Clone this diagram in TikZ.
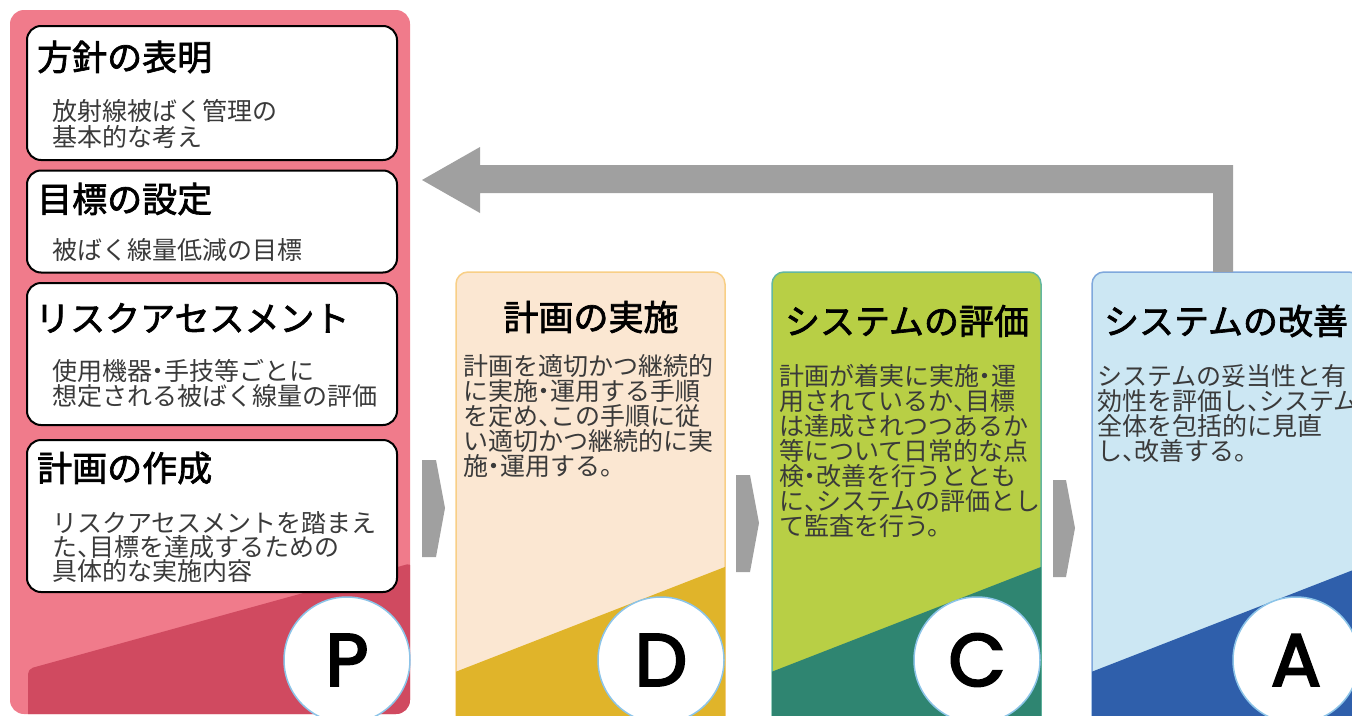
\documentclass[tikz,border=0pt]{standalone}
\usepackage{fontspec}
\newfontfamily\jp{Noto Sans CJK JP}
\newfontfamily\jph[FakeBold=2]{Noto Sans CJK JP}
\newfontfamily\lat[FakeBold=3]{Poppins}
\definecolor{pfill}{HTML}{F07B8B}
\definecolor{pdark}{HTML}{D04A60}
\definecolor{dfill}{HTML}{FBE7D2}
\definecolor{dline}{HTML}{F8CF86}
\definecolor{ddark}{HTML}{E0B42A}
\definecolor{cfill}{HTML}{B8CF45}
\definecolor{cline}{HTML}{63B7A0}
\definecolor{cdark}{HTML}{2F8571}
\definecolor{afill}{HTML}{CCE7F3}
\definecolor{aline}{HTML}{7FA8DC}
\definecolor{adark}{HTML}{2F5FAB}
\definecolor{flow}{HTML}{A0A0A0}
\definecolor{body}{HTML}{3A3A3A}
\definecolor{ring}{HTML}{8CC4E8}
\newcommand\Jc{\makebox[.5em][l]{、}}
\newcommand\Jd{\makebox[.5em][c]{・}}
\begin{document}
\begin{tikzpicture}[x=1pt,y=-1pt,
  pbox/.style={draw=black, line width=2pt, fill=white, rounded corners=14pt, inner sep=0pt},
  head/.style={font=\jph\fontsize{35}{40}\selectfont, text=black, inner sep=0pt},
  sub/.style={font=\jp\fontsize{25}{25}\selectfont, text=body, inner sep=0pt, anchor=west},
  badge/.style={circle, fill=white, draw=ring, line width=1.5pt, minimum size=126pt, inner sep=0pt,
    font=\lat\fontsize{74}{74}\selectfont, text=black},
  chev/.style={fill=flow}
]
\useasboundingbox (0,0) rectangle (1352,715);
\fill[white] (0,0) rectangle (1352,715);

% ---------- P panel ----------
\fill[pfill, rounded corners=14pt] (10,10) rectangle (410,714);
\begin{scope}
  \clip[rounded corners=14pt] (10,10) rectangle (410,714);
  \fill[pdark, rounded corners=5pt] (28,669) -- (412,563) -- (412,720) -- (28,720) -- cycle;
\end{scope}

\node[pbox, minimum width=370pt, minimum height=134pt] (b1) at (212,93) {};
\node[pbox, minimum width=370pt, minimum height=102pt] (b2) at (212,221.5) {};
\node[pbox, minimum width=370pt, minimum height=142pt] (b3) at (212,354) {};
\node[pbox, minimum width=370pt, minimum height=152pt] (b4) at (212,516) {};

\node[head, anchor=west] (h1) at (37,57) {方針の表明};
\node[head, anchor=west] (h2) at (37,199) {目標の設定};
\node[head, anchor=west] (h3) at (35,318) {リスクアセスメント};
\node[head, anchor=west] (h4) at (37,468) {計画の作成};

\node[sub] (s1a) at (52,111) {放射線被ばく管理の};
\node[sub] (s1b) at (52,137) {基本的な考え};
\node[sub] (s2a) at (52,250) {被ばく線量低減の目標};
\node[sub] (s3a) at (52,371) {使用機器\Jd 手技等ごとに};
\node[sub] (s3b) at (52,396) {想定される被ばく線量の評価};
\node[sub] (s4a) at (52,523) {リスクアセスメントを踏まえ};
\node[sub] (s4b) at (52,547) {た\Jc 目標を達成するための};
\node[sub] (s4c) at (52,571) {具体的な実施内容};

\node[badge] (P) at (347,660) {P};

% ---------- D panel ----------
\filldraw[fill=dfill, draw=dline, line width=1.5pt, rounded corners=12pt] (456,272) rectangle (725,740);
\begin{scope}
  \clip[rounded corners=12pt] (456,272) rectangle (725,740);
  \fill[ddark] (450,674) -- (730,565) -- (730,740) -- (450,740) -- cycle;
\end{scope}
\node[head] (hd) at (591,317) {計画の実施};
\node[sub] (d1) at (463,366) {計画を適切かつ継続的};
\node[sub] (d2) at (463,391) {に実施\Jd 運用する手順};
\node[sub] (d3) at (463,416) {を定め\Jc この手順に従};
\node[sub] (d4) at (463,441) {い適切かつ継続的に実};
\node[sub] (d5) at (463,466) {施\Jd 運用する。};
\node[badge] (D) at (661,660) {D};

% ---------- C panel ----------
\filldraw[fill=cfill, draw=cline, line width=1.5pt, rounded corners=12pt] (772,272) rectangle (1041,740);
\begin{scope}
  \clip[rounded corners=12pt] (772,272) rectangle (1041,740);
  \fill[cdark] (766,674) -- (1046,565) -- (1046,740) -- (766,740) -- cycle;
\end{scope}
\node[head] (hc) at (907,321) {システムの評価};
\node[sub] (c1) at (779,376) {計画が着実に実施\Jd 運};
\node[sub] (c2) at (779,401) {用されているか\Jc 目標};
\node[sub] (c3) at (779,426) {は達成されつつあるか};
\node[sub] (c4) at (779,451) {等について日常的な点};
\node[sub] (c5) at (779,476) {検\Jd 改善を行うととも};
\node[sub] (c6) at (779,501) {に\Jc システムの評価とし};
\node[sub] (c7) at (779,526) {て監査を行う。};
\node[badge] (C) at (977,660) {C};

% ---------- A panel ----------
\filldraw[fill=afill, draw=aline, line width=1.5pt, rounded corners=12pt] (1092,272) rectangle (1361,740);
\begin{scope}
  \clip[rounded corners=12pt] (1092,272) rectangle (1361,740);
  \fill[adark] (1086,674) -- (1366,565) -- (1366,740) -- (1086,740) -- cycle;
\end{scope}
\node[head] (ha) at (1226,321) {システムの改善};
\node[sub] (a1) at (1097,376) {システムの妥当性と有};
\node[sub] (a2) at (1097,401) {効性を評価し\Jc システム};
\node[sub] (a3) at (1097,426) {全体を包括的に見直};
\node[sub] (a4) at (1097,451) {し\Jc 改善する。};
\node[badge] (A) at (1296,660) {A};

% ---------- chevrons ----------
\fill[chev] (422,460) -- (436,460) -- (445,508) -- (436,557) -- (422,557) -- cycle;
\fill[chev] (736,475) -- (750,475) -- (759,523) -- (750,572) -- (736,572) -- cycle;
\fill[chev] (1053,480) -- (1066,480) -- (1075,528) -- (1066,577) -- (1053,577) -- cycle;

% ---------- feedback arrow ----------
\coordinate (fbstart) at (1223,272);
\fill[flow] (1233,272) -- (1233,165) -- (480,165) -- (480,147) -- (422,180)
  -- (480,213) -- (480,193) -- (1213,193) -- (1213,272) -- cycle;
\end{tikzpicture}
\end{document}
